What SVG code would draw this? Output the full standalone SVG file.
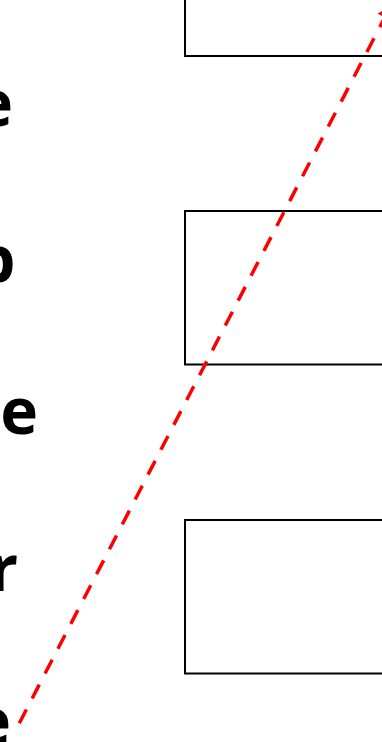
<svg xmlns="http://www.w3.org/2000/svg" width="382" height="742" viewBox="0 0 382 742">
<style>
.lbl{font-family:"Open Sans","Liberation Sans",sans-serif;font-weight:700;font-size:64px;fill:#000;text-anchor:end}
.box{fill:#fff;stroke:#000;stroke-width:2}
.conn{fill:none;stroke:#ff0000;stroke-width:3.5;stroke-dasharray:15.5 12.5}
</style>
<defs>
<marker id="arr" markerUnits="userSpaceOnUse" markerWidth="20" markerHeight="20" refX="14" refY="8" orient="auto">
<path d="M0,0 L14,8 L0,16 Z" fill="#ff0000"/>
</marker>
</defs>
<rect width="382" height="742" fill="#fff"/>
<g id="labels">
<text class="lbl" x="13" y="126">e</text>
<text class="lbl" x="15.5" y="282">p</text>
<text class="lbl" x="38" y="434">e</text>
<text class="lbl" x="18" y="591">r</text>
<text class="lbl" x="11" y="744">e</text>
</g>
<g id="node1"><rect class="box" x="185" y="-97.5" width="260" height="153.5"/></g>
<g id="node2"><rect class="box" x="185" y="211" width="260" height="153.5"/></g>
<g id="node3"><rect class="box" x="185" y="520" width="260" height="153.5"/></g>
<g id="connectors">
<path class="conn" d="M19.3,723.3 L391.2,5" marker-end="url(#arr)"/>
</g>
</svg>
